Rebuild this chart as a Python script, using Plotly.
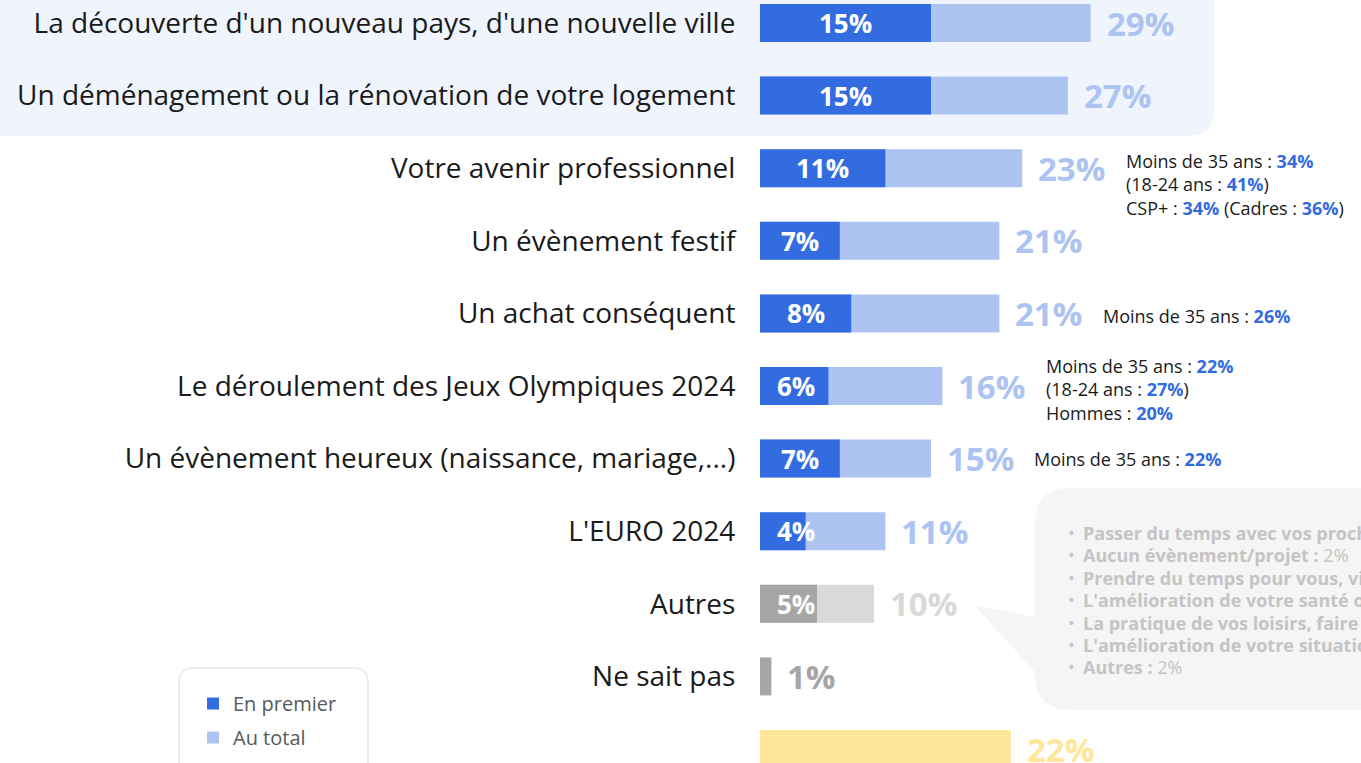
import re
import plotly.graph_objects as go

# ---------------- data ----------------
categories = [
    "La découverte d'un nouveau pays, d'une nouvelle ville",
    "Un déménagement ou la rénovation de votre logement",
    "Votre avenir professionnel",
    "Un évènement festif",
    "Un achat conséquent",
    "Le déroulement des Jeux Olympiques 2024",
    "Un évènement heureux (naissance, mariage,...)",
    "L'EURO 2024",
    "Autres",
    "Ne sait pas",
    "Aucun évènement/projet",
]
en_premier = [15, 15, 11, 7, 8, 6, 7, 4, 5, None, None]
au_total = [29, 27, 23, 21, 21, 16, 15, 11, 10, 1, 22]

premier_colors = ["#336CE0"] * 8 + ["#A6A6A6", "#A6A6A6", "#FFE699"]
total_colors = ["#ADC4F2"] * 8 + ["#D9D9D9", "#A6A6A6", "#FFE699"]
total_label_colors = ["#ADC4F2"] * 8 + ["#D9D9D9", "#A6A6A6", "#FFE699"]

sub_rows = [2, 4, 5, 6]
sub_lines = [
    ["Moins de 35 ans : [34%]", "(18-24 ans : [41%])", "CSP+ : [34%] (Cadres : [36%])"],
    ["Moins de 35 ans : [26%]"],
    ["Moins de 35 ans : [22%]", "(18-24 ans : [27%])", "Hommes : [20%]"],
    ["Moins de 35 ans : [22%]"],
]

bubble_labels = [
    "Passer du temps avec vos proches",
    "Aucun évènement/projet",
    "Prendre du temps pour vous, vivre vos passions",
    "L'amélioration de votre santé ou de celle d'un proche",
    "La pratique de vos loisirs, faire du sport",
    "L'amélioration de votre situation financière",
    "Autres",
]
bubble_values = [None, "2%", None, None, None, None, "2%"]

legend_names = ["En premier", "Au total"]

# ---------------- geometry ----------------
W, H = 1361, 763
FONT = "Open Sans"
BAR_X0 = 760          # px where bars start
PX_PER_UNIT = 11.4    # px per percentage point
ROW0 = 23             # px centre of first row
ROW_STEP = 72.6       # px between rows

n = len(categories)
ypos = list(range(n))
x_max = (W - BAR_X0) / PX_PER_UNIT
y_top = -ROW0 / ROW_STEP
y_bot = (H - ROW0) / ROW_STEP
bar_w = 38 / ROW_STEP
sub_dy = [16, 3, 3, 0]   # vertical nudge (px) of each note block


def px(x, y):
    return f"{x / W:.5f},{1 - y / H:.5f}"


def path(cmds):
    out = []
    for c in cmds:
        if c[0] in ("M", "L"):
            out.append(f"{c[0]} {px(c[1], c[2])}")
        elif c[0] == "Q":
            out.append(f"Q {px(c[1], c[2])} {px(c[3], c[4])}")
        elif c[0] == "Z":
            out.append("Z")
    return " ".join(out)


fig = go.Figure()

fig.add_trace(go.Bar(
    x=au_total, y=ypos, orientation="h", width=bar_w,
    marker=dict(color=total_colors, line=dict(width=0)),
    name=legend_names[1], legendrank=2, legendgroup="b",
    hoverinfo="skip",
))
fig.add_trace(go.Bar(
    x=en_premier, y=ypos, orientation="h", width=bar_w,
    marker=dict(color=premier_colors, line=dict(width=0)),
    name=legend_names[0], legendrank=1, legendgroup="a",
    hoverinfo="skip",
))

annotations = []
# inner labels (En premier)
for i, v in enumerate(en_premier):
    if v is None:
        continue
    annotations.append(dict(
        x=max(v / 2, 3.2), y=i, xref="x", yref="y", text=f"<b>{v}%</b>",
        showarrow=False, font=dict(family=FONT, size=26, color="white"),
        xanchor="center", yanchor="middle",
    ))
# total labels
for i, v in enumerate(au_total):
    annotations.append(dict(
        x=v, y=i, xref="x", yref="y", text=f"<b>{v}%</b>", xshift=14,
        showarrow=False, font=dict(family=FONT, size=33, color=total_label_colors[i]),
        xanchor="left", yanchor="middle",
    ))


def hl(s):
    return re.sub(r"\[([^\]]+)\]", r"<b><span style='color:#336CE0'>\1</span></b>", s)


for r, lines, dy in zip(sub_rows, sub_lines, sub_dy):
    annotations.append(dict(
        x=au_total[r] + 8.9, y=r, xref="x", yref="y", yshift=-dy,
        text="<br>".join(hl(l) for l in lines),
        showarrow=False, align="left", xanchor="left", yanchor="middle",
        font=dict(family=FONT, size=18, color="#1A1A1A"),
    ))

# bubble text
for k, (lab, val) in enumerate(zip(bubble_labels, bubble_values)):
    annotations.append(dict(
        x=1066 / W, y=1 - (533 + 22.4 * k) / H, xref="paper", yref="paper",
        text="•", showarrow=False, xanchor="left", yanchor="middle",
        font=dict(family=FONT, size=18, color="#C4C4C4"),
    ))
    t = f"<b>{lab}</b>" + (f"<b> :</b> {val}" if val else "")
    annotations.append(dict(
        x=1081 / W, y=1 - (533 + 22.4 * k) / H, xref="paper", yref="paper",
        text=t, showarrow=False, xanchor="left", yanchor="middle",
        font=dict(family=FONT, size=18, color="#C4C4C4"),
    ))

shapes = []
# pale blue highlight area behind first two rows
shapes.append(dict(
    type="path", xref="paper", yref="paper", layer="below",
    path=path([("M", -10, -10), ("L", 1214, -10), ("L", 1214, 110),
               ("Q", 1214, 136, 1188, 136), ("L", -10, 136), ("Z",)]),
    fillcolor="#EFF4FD", line=dict(width=0),
))
# grey speech bubble
r = 35
shapes.append(dict(
    type="path", xref="paper", yref="paper", layer="below",
    path=path([("M", 1035 + r, 488), ("L", 1375, 488), ("L", 1375, 710),
               ("L", 1035 + r, 710), ("Q", 1035, 710, 1035, 710 - r),
               ("L", 1035, 672), ("L", 974, 605), ("L", 1035, 617),
               ("L", 1035, 488 + r), ("Q", 1035, 488, 1035 + r, 488), ("Z",)]),
    fillcolor="#F5F5F5", line=dict(width=0),
))
# legend frame
shapes.append(dict(
    type="path", xref="paper", yref="paper", layer="below",
    path=path([("M", 179, 775), ("L", 179, 683), ("Q", 179, 668, 194, 668),
               ("L", 353, 668), ("Q", 368, 668, 368, 683), ("L", 368, 775)]),
    fillcolor="rgba(0,0,0,0)", line=dict(width=2, color="#EDEDED"),
))

fig.update_layout(
    width=W, height=H,
    margin=dict(l=0, r=0, t=0, b=0),
    paper_bgcolor="white", plot_bgcolor="rgba(0,0,0,0)",
    barmode="overlay",
    showlegend=True,
    legend=dict(
        x=193 / W, y=1 - 684 / H, xanchor="left", yanchor="top",
        font=dict(family=FONT, size=20, color="#595959"),
        bgcolor="rgba(0,0,0,0)", traceorder="grouped", tracegroupgap=5,
        itemclick=False, itemdoubleclick=False,
    ),
    xaxis=dict(domain=[BAR_X0 / W, 1], range=[0, x_max], visible=False, fixedrange=True),
    yaxis=dict(
        range=[y_bot, y_top], tickmode="array", tickvals=ypos, ticktext=categories,
        showgrid=False, zeroline=False, showline=False,
        ticks="outside", ticklen=18, tickcolor="rgba(0,0,0,0)",
        tickfont=dict(family=FONT, size=28, color="#1A1A1A"), fixedrange=True,
    ),
    annotations=annotations,
    shapes=shapes,
)

fig.write_html(
    "out.html",
    config={"displayModeBar": False},
    post_script="document.body.style.margin='0';document.body.style.overflow='hidden';",
)
